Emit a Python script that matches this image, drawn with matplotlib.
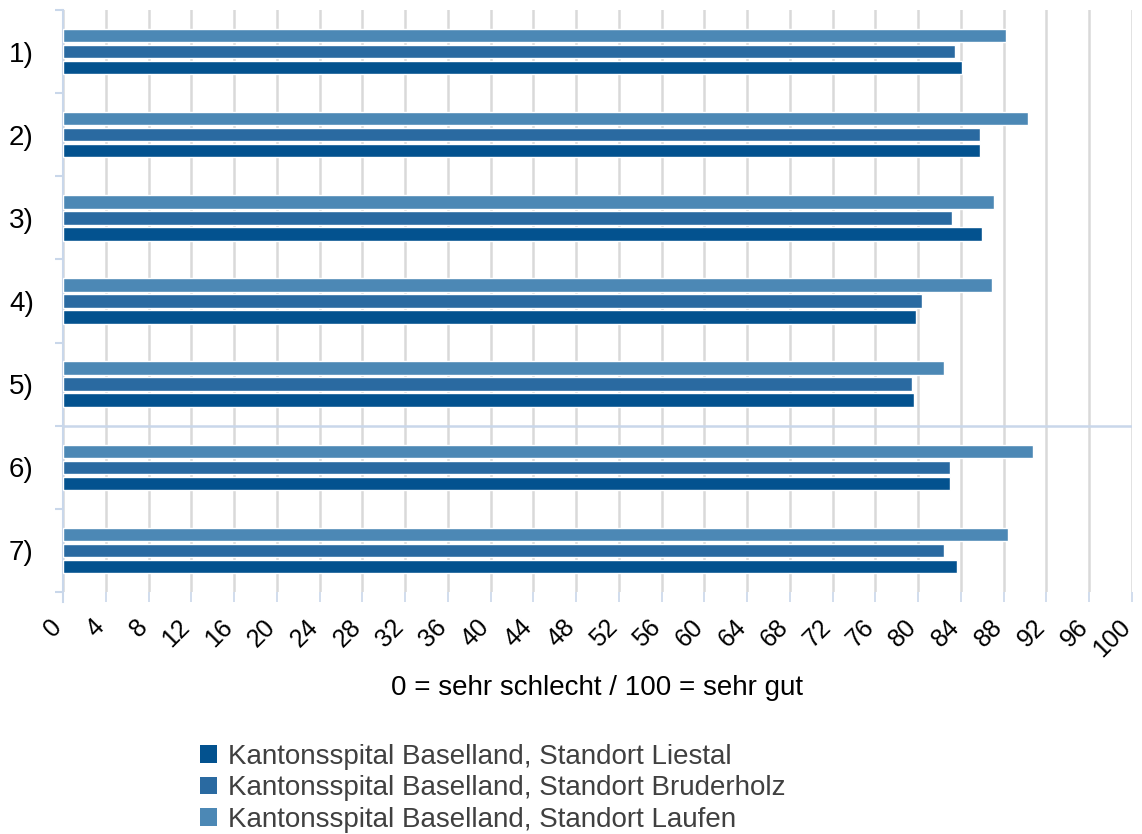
import matplotlib
matplotlib.use("Agg")
import matplotlib.pyplot as plt
import matplotlib.transforms as mtransforms
import numpy as np
from matplotlib.patches import Patch

plt.rcParams['font.family'] = ['Liberation Sans', 'DejaVu Sans']

categories = ["1)", "2)", "3)", "4)", "5)", "6)", "7)"]
series_names = ["Kantonsspital Baselland, Standort Liestal",
                "Kantonsspital Baselland, Standort Bruderholz",
                "Kantonsspital Baselland, Standort Laufen"]
liestal = [84.1, 85.8, 86.0, 79.8, 79.6, 83.0, 83.6]
bruderholz = [83.4, 85.8, 83.2, 80.4, 79.4, 83.0, 82.4]
laufen = [88.2, 90.3, 87.1, 86.9, 82.4, 90.7, 88.4]
xticks = list(range(0, 101, 4))
xlabel = "0 = sehr schlecht / 100 = sehr gut"

colors = ["#03528F", "#2A6AA1", "#4C88B5"]

W, H = 1142, 834
fig = plt.figure(figsize=(W / 100, H / 100), dpi=100)
ax = fig.add_axes([63 / W, 1 - 592 / H, (1132 - 63) / W, (592 - 10) / H])

n = len(categories)
centers = np.arange(n) + 0.5
bh = 13.5 / 83.1
off = 16 / 83.1
for vals, dy, c in [(laufen, -off, colors[2]), (bruderholz, 0, colors[1]), (liestal, off, colors[0])]:
    ax.barh(centers + dy, vals, height=bh, color=c, edgecolor="white", linewidth=1.0, zorder=3)

ax.set_xlim(0, 100)
ax.set_ylim(n, 0)

ax.set_xticks(xticks)
ax.set_xticklabels([str(t) for t in xticks], rotation=45, ha="right", va="center",
                   rotation_mode="anchor", fontsize=18, color="black")
ax.tick_params(axis="x", length=7.5, width=1.2, color="#C9D7EA", pad=0)
shift = mtransforms.ScaledTranslation(-5 / 100, -21 / 100, fig.dpi_scale_trans)
for lbl in ax.get_xticklabels():
    lbl.set_transform(lbl.get_transform() + shift)

ax.set_yticks(np.arange(n + 1))
ax.set_yticklabels([])
ax.tick_params(axis="y", which="major", length=6, width=1.5, color="#C9D7EA")
ax.set_yticks(centers, minor=True)
ax.set_yticklabels(categories, minor=True, fontsize=20)
ax.tick_params(axis="y", which="minor", length=0, pad=21)

ax.grid(axis="x", color="#D9D9D9", linewidth=1.8, zorder=0)
ax.set_axisbelow(True)
ax.axhline(5, color="#C9D7EA", linewidth=1.8, zorder=1)

for s in ["top", "right", "bottom"]:
    ax.spines[s].set_visible(False)
ax.spines["left"].set_color("#C9D7EA")
ax.spines["left"].set_linewidth(1.5)
ax.spines["left"].set_bounds(0, n + 10 / 83.1)

fig.text(597 / W, 1 - 688 / H, xlabel, ha="center", va="center", fontsize=20, color="black")

handles = [Patch(facecolor=c) for c in colors]
fig.legend(handles, series_names, loc="upper left", bbox_to_anchor=(200 / W, 1 - 744 / H),
           frameon=False, fontsize=20, handlelength=0.6, handleheight=0.6, handletextpad=0.4,
           labelspacing=0.19, labelcolor="#404040", borderpad=0, borderaxespad=0)

fig.savefig("out.png", dpi=100)
